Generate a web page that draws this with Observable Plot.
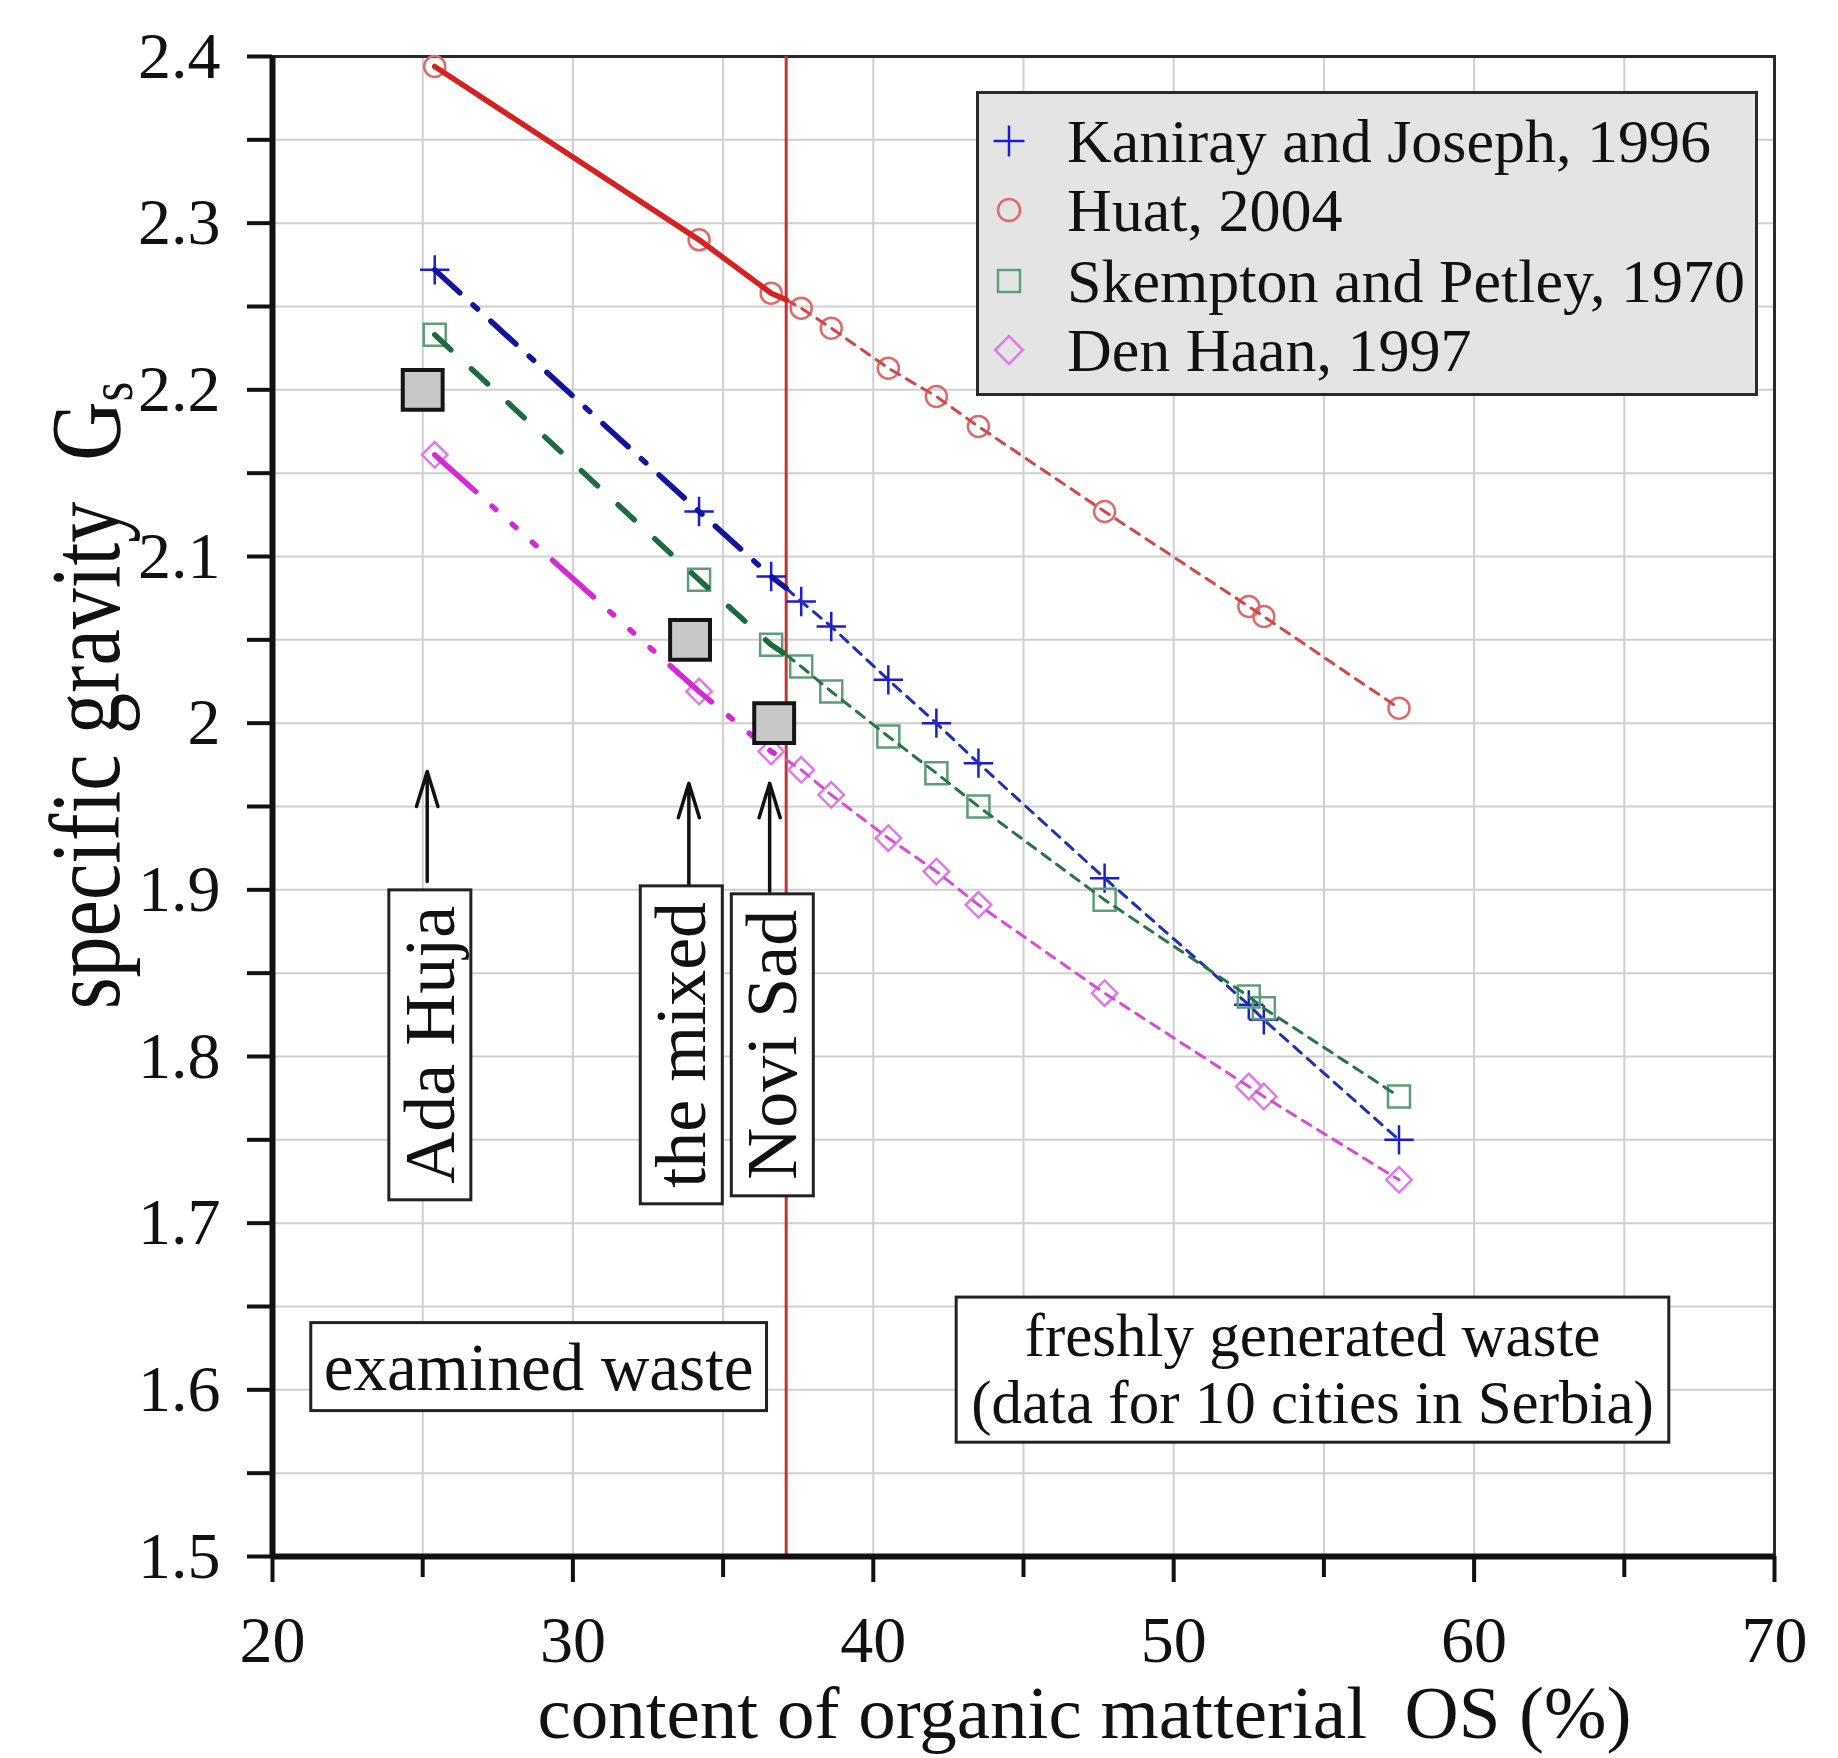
<!DOCTYPE html>
<html>
<head>
<meta charset="utf-8">
<script src="https://cdn.jsdelivr.net/npm/d3@7"></script>
<script src="https://cdn.jsdelivr.net/npm/@observablehq/plot@0.6"></script>
<style>
  body { margin: 0; background: #fff; }
  #wrap { position: relative; width: 1838px; height: 1758px; overflow: hidden; }
  #legend { position: absolute; left: 976px; top: 91px; width: 776px; height: 299px;
            background: #e4e4e4; border: 3px solid #2a2a2a;
            font-family: "Liberation Serif", "Times New Roman", Times, serif; font-size: 62px; color: #111; }
  #legend .row { position: absolute; left: 0; height: 70px; width: 100%; }
  #legend .row svg { position: absolute; left: 8px; top: 13px; }
  #legend .row span { position: absolute; left: 88px; top: 0; line-height: 70px; white-space: nowrap; }
</style>
</head>
<body>
<div id="wrap"></div>
<script>
const FONT = '"Liberation Serif", "Times New Roman", Times, serif';

// ---------------- data ----------------
const examinedOS = [25.4, 34.2, 36.6];
const freshOS = [37.6, 38.6, 40.5, 42.1, 43.5, 47.7, 52.5, 53.0, 57.5];
const boundaryOS = 37.1;

const kanirayExamined = [2.272, 2.127, 2.088];
const kanirayBoundary = 2.081;
const kanirayFresh = [2.073, 2.058, 2.026, 2.000, 1.976, 1.907, 1.831, 1.822, 1.750];

const huatExamined = [2.394, 2.290, 2.258];
const huatBoundary = 2.254;
const huatFresh = [2.249, 2.237, 2.213, 2.196, 2.178, 2.127, 2.070, 2.064, 2.009];

const skemptonExamined = [2.233, 2.086, 2.047];
const skemptonBoundary = 2.041;
const skemptonFresh = [2.034, 2.019, 1.992, 1.970, 1.950, 1.894, 1.836, 1.829, 1.776];

const denHaanExamined = [2.161, 2.019, 1.983];
const denHaanBoundary = 1.978;
const denHaanFresh = [1.972, 1.957, 1.931, 1.911, 1.891, 1.838, 1.782, 1.776, 1.726];

const seriesNames = ["Kaniray and Joseph, 1996", "Huat, 2004", "Skempton and Petley, 1970", "Den Haan, 1997"];

const sampleNames = ["Ada Huja", "the mixed", "Novi Sad"];
const sampleOS = [25.0, 33.9, 36.7];
const sampleGs = [2.20, 2.05, 2.00];

const xDomain = [20, 70];
const yDomain = [1.5, 2.4];
const xTicks = [20, 30, 40, 50, 60, 70];
const xMinorTicks = [25, 35, 45, 55, 65];
const yTicks = [1.5, 1.6, 1.7, 1.8, 1.9, 2, 2.1, 2.2, 2.3, 2.4];
const yMinorTicks = [1.55, 1.65, 1.75, 1.85, 1.95, 2.05, 2.15, 2.25, 2.35];

const xTitle = "content of organic matterial \u00a0OS (%)";
const yTitle = "specific gravity \u00a0G";
const examinedText = "examined waste";
const freshText = "freshly generated waste\n(data for 10 cities in Serbia)";

// ---------------- annotation placement (not data) ----------------
const arrowX = [25.15, 33.86, 36.55];
const arrowTipY = [1.971, 1.964, 1.964];
const arrowBaseY = [1.905, 1.899, 1.899];
const labelX = [25.27, 33.64, 36.67];
const labelY = 1.807;
const noteY = 1.613;
const examinedNoteX = 28.86;
const freshNoteX = 54.62;

// ---------------- styles ----------------
const styles = {
  "Kaniray and Joseph, 1996": {symbol: "plus", r: 9.5, legR: 10, marker: "#1c1cd8", line: "#12129c", thin: "#1f2fb0", dash: "34,18,6,18"},
  "Huat, 2004": {symbol: "circle", r: 10.5, legR: 11, marker: "#e06a6a", line: "#d42222", thin: "#d04848", dash: null},
  "Skempton and Petley, 1970": {symbol: "square2", r: 14, legR: 14, marker: "#5f9c78", line: "#1c6a3e", thin: "#2a7348", dash: "22,28"},
  "Den Haan, 1997": {symbol: "diamond2", r: 11.5, legR: 12.5, marker: "#e07ae6", line: "#d42ad4", thin: "#d84ad8", dash: "55,22,5,22,5,22,5,22"}
};

// ---------------- build tables ----------------
const seriesData = [
  {name: seriesNames[0], examined: kanirayExamined, boundary: kanirayBoundary, fresh: kanirayFresh},
  {name: seriesNames[1], examined: huatExamined, boundary: huatBoundary, fresh: huatFresh},
  {name: seriesNames[2], examined: skemptonExamined, boundary: skemptonBoundary, fresh: skemptonFresh},
  {name: seriesNames[3], examined: denHaanExamined, boundary: denHaanBoundary, fresh: denHaanFresh}
];

const marks = [];
marks.push(Plot.gridX(xTicks.concat(xMinorTicks), {stroke: "#cfcfcf", strokeOpacity: 1, strokeWidth: 2}));
marks.push(Plot.gridY(yTicks.concat(yMinorTicks), {stroke: "#cfcfcf", strokeOpacity: 1, strokeWidth: 2}));
marks.push(Plot.frame({stroke: "#2a2a2a", strokeWidth: 3}));
marks.push(Plot.ruleX([boundaryOS], {stroke: "#c83232", strokeWidth: 3}));

seriesData.forEach(s => {
  const st = styles[s.name];
  const pts = examinedOS.map((x, i) => ({x, y: s.examined[i]}))
    .concat(freshOS.map((x, i) => ({x, y: s.fresh[i]})));
  marks.push(Plot.dot(pts, {x: "x", y: "y", symbol: st.symbol, r: st.r, stroke: st.marker, fill: "none", strokeWidth: 2.5}));
});
seriesData.forEach(s => {
  const st = styles[s.name];
  const thick = examinedOS.map((x, i) => ({x, y: s.examined[i]})).concat([{x: boundaryOS, y: s.boundary}]);
  const thin = [{x: boundaryOS, y: s.boundary}].concat(freshOS.map((x, i) => ({x, y: s.fresh[i]})));
  marks.push(Plot.line(thin, {x: "x", y: "y", stroke: st.thin, strokeWidth: 3, strokeDasharray: "10,8"}));
  marks.push(Plot.line(thick, {x: "x", y: "y", stroke: st.line, strokeWidth: 5.5, strokeDasharray: st.dash}));
});

const samples = sampleNames.map((name, i) => ({name, x: sampleOS[i], y: sampleGs[i]}));
marks.push(Plot.dot(samples, {x: "x", y: "y", symbol: "square", r: 22.5, fill: "#c8c8c8", stroke: "#151515", strokeWidth: 4}));

const arrows = sampleNames.map((name, i) => ({x: arrowX[i], y1: arrowBaseY[i], y2: arrowTipY[i]}));
marks.push(Plot.arrow(arrows, {x: "x", y1: "y1", y2: "y2", stroke: "#111", strokeWidth: 3.5, headLength: 26, headAngle: 34}));

const labels = sampleNames.map((name, i) => ({name, x: labelX[i], y: labelY}));
marks.push(Plot.text(labels, {x: "x", y: "y", text: "name", rotate: -90, fontSize: 72, fill: "#111"}));
marks.push(Plot.text([examinedText], {x: () => examinedNoteX, y: () => noteY, fontSize: 67, fill: "#111"}));
marks.push(Plot.text([freshText], {x: () => freshNoteX, y: () => noteY, fontSize: 61, lineHeight: 1.1, fill: "#111"}));

// axes
marks.push(Plot.ruleX([xDomain[0]], {stroke: "#111", strokeWidth: 6}));
marks.push(Plot.ruleY([yDomain[0]], {stroke: "#111", strokeWidth: 6}));
marks.push(Plot.axisX(xTicks, {tickSize: 26, tickPadding: 33, fontSize: 66, strokeWidth: 4, stroke: "#111", fill: "#111", label: null, tickFormat: d => String(d)}));
marks.push(Plot.axisX(xMinorTicks, {tickSize: 21, strokeWidth: 4, stroke: "#111", label: null, tickFormat: () => ""}));
marks.push(Plot.axisY(yTicks, {tickSize: 25, tickPadding: 27, fontSize: 66, strokeWidth: 4, stroke: "#111", fill: "#111", label: null, tickFormat: d => String(d)}));
marks.push(Plot.axisY(yMinorTicks, {tickSize: 25, strokeWidth: 4, stroke: "#111", label: null, tickFormat: () => ""}));

marks.push(Plot.text([xTitle], {frameAnchor: "bottom", textAnchor: "middle", lineAnchor: "middle", dx: 61, dy: 157, fontSize: 75, fill: "#111"}));
marks.push(Plot.text([yTitle], {frameAnchor: "left", textAnchor: "middle", lineAnchor: "middle", rotate: -90, dx: -186, dy: -111, fontSize: 100, fill: "#111"}));

const chart = Plot.plot({
  width: 1838, height: 1758,
  marginLeft: 272, marginRight: 64, marginTop: 56, marginBottom: 202,
  x: {domain: xDomain},
  y: {domain: yDomain},
  style: {fontFamily: FONT, background: "white", color: "#111", overflow: "visible"},
  marks
});

const wrap = document.getElementById("wrap");
wrap.append(chart);

// boxes around annotation texts
const svgns = "http://www.w3.org/2000/svg";
const allTexts = Array.from(chart.querySelectorAll("text"));
function boxText(match, padX, padY) {
  allTexts.filter(t => match(t.textContent)).forEach(t => {
    const b = t.getBBox();
    const r = document.createElementNS(svgns, "rect");
    r.setAttribute("x", b.x - padX);
    r.setAttribute("y", b.y - padY);
    r.setAttribute("width", b.width + 2 * padX);
    r.setAttribute("height", b.height + 2 * padY);
    r.setAttribute("fill", "white");
    r.setAttribute("stroke", "#222");
    r.setAttribute("stroke-width", 3);
    if (t.getAttribute("transform")) r.setAttribute("transform", t.getAttribute("transform"));
    t.parentNode.insertBefore(r, t);
  });
}
boxText(s => sampleNames.includes(s), 16, 1);
boxText(s => s === examinedText, 13, 7);
boxText(s => s.startsWith("freshly"), 15, 5);

// subscript s and condensed y title
allTexts.filter(t => t.textContent === yTitle).forEach(t => {
  const ts = document.createElementNS(svgns, "tspan");
  ts.setAttribute("dy", "0.22em");
  ts.setAttribute("font-size", "0.62em");
  ts.textContent = "s";
  t.appendChild(ts);
  t.setAttribute("transform", (t.getAttribute("transform") || "") + " scale(0.82,1)");
});

// legend
const legend = document.createElement("div");
legend.id = "legend";
const rowTops = [12, 81, 152, 221];
const symMap = {plus: d3.symbolPlus, circle: d3.symbolCircle, square2: d3.symbolSquare2, diamond2: d3.symbolDiamond2};
seriesNames.forEach((name, i) => {
  const st = styles[name];
  const row = document.createElement("div");
  row.className = "row";
  row.style.top = rowTops[i] + "px";
  const path = d3.symbol(symMap[st.symbol], Math.PI * st.legR * st.legR)();
  row.innerHTML = `<svg width="44" height="44" viewBox="-22 -22 44 44"><path d="${path}" fill="none" stroke="${st.marker}" stroke-width="2.5"/></svg><span>${name}</span>`;
  legend.appendChild(row);
});
wrap.appendChild(legend);
</script>
</body>
</html>
